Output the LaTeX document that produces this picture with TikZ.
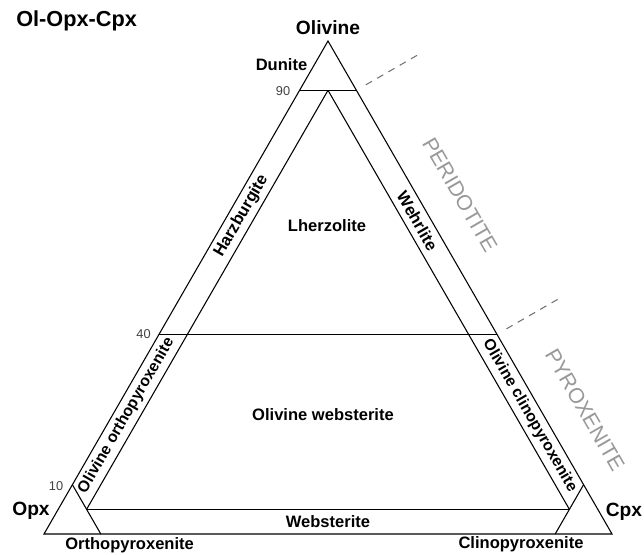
\documentclass[tikz,border=0pt]{standalone}
\usepackage{fontspec}
\setmainfont{Liberation Sans}
\usetikzlibrary{calc}
\begin{document}
\begin{tikzpicture}[x=0.75pt,y=-0.75pt,
  edge/.style={line width=0.8pt, black},
  lab/.style={font=\bfseries\fontsize{12.4}{14}\selectfont, inner sep=0pt},
  longlab/.style={font=\bfseries\fontsize{11.8}{14}\selectfont, inner sep=0pt},
  big/.style={font=\bfseries\fontsize{14.4}{16}\selectfont, inner sep=0pt},
  ttl/.style={font=\bfseries\fontsize{16.3}{18}\selectfont, inner sep=0pt},
  num/.style={font=\fontsize{9.6}{11}\selectfont, text=black!75, inner sep=0pt},
  zone/.style={font=\fontsize{16}{18}\selectfont, text=black!40, inner sep=0pt, rotate=-60},
  sep/.style={dash pattern=on 5.25pt off 4.5pt, black!55, line width=0.8pt}]
\useasboundingbox (0,0) rectangle (644,555);
% corners
\coordinate (A) at (328,41);
\coordinate (O) at (44,534);
\coordinate (C) at (612,534);
% key points
\coordinate (L90) at ($0.9*(A)+0.1*(O)$);
\coordinate (R90) at ($0.9*(A)+0.1*(C)$);
\coordinate (L40) at ($0.405*(A)+0.595*(O)$);
\coordinate (R40) at ($0.405*(A)+0.595*(C)$);
\coordinate (P90) at ($0.9*(A)+0.05*(O)+0.05*(C)$);
\coordinate (PO) at ($0.05*(A)+0.9*(O)+0.05*(C)$);
\coordinate (PC) at ($0.05*(A)+0.05*(O)+0.9*(C)$);
\coordinate (L10) at ($0.1*(A)+0.9*(O)$);
\coordinate (B10) at ($0.9*(O)+0.1*(C)$);
\coordinate (R10) at ($0.1*(A)+0.9*(C)$);
\coordinate (B10c) at ($0.1*(O)+0.9*(C)$);
% label positions
\coordinate (Hz) at ($0.645*(A)+0.33*(O)+0.025*(C)$);
\coordinate (Oo) at ($0.24*(A)+0.735*(O)+0.025*(C)$);
\coordinate (Wh) at ($0.635*(A)+0.025*(O)+0.34*(C)$);
\coordinate (Oc) at ($0.24*(A)+0.025*(O)+0.735*(C)$);
\coordinate (Wb) at ($0.025*(A)+0.4875*(O)+0.4875*(C)$);
% dashed separators
\coordinate (D1s) at ($(R90)+(9.5,-5.5)$);
\coordinate (D1e) at ($(R90)+(62.5,-36)$);
\coordinate (D2s) at ($(R40)+(9.5,-5.5)$);
\coordinate (D2e) at ($(R40)+(62.5,-36)$);

% lines
\draw[edge] (A) -- (O) -- (C) -- cycle;
\draw[edge] (L90) -- (R90);
\draw[edge] (L40) -- (R40);
\draw[edge] (P90) -- (PO);
\draw[edge] (P90) -- (PC);
\draw[edge] (PO) -- (PC);
\draw[edge] (L10) -- (B10);
\draw[edge] (R10) -- (B10c);
\draw[sep] (D1s) -- (D1e);
\draw[sep] (D2s) -- (D2e);

% texts
\node[ttl, anchor=base west] (title) at (16,27) {Ol-Opx-Cpx};
\node[big, anchor=base] (ol) at (328,35) {Olivine};
\node[big, anchor=base] (opx) at (31,516) {Opx};
\node[big, anchor=base] (cpx) at (624,516.5) {Cpx};
\node[lab, anchor=base] (dun) at (281.5,70.5) {Dunite};
\node[num, anchor=east] (n90) at (290.5,91) {90};
\node[num, anchor=east] (n40) at (151,334.5) {40};
\node[num, anchor=east] (n10) at (63.5,486) {10};
\node[lab, anchor=base] (lhz) at (327,232) {Lherzolite};
\node[lab, anchor=base] (olw) at (323,421) {Olivine websterite};
\node[lab] (web) at (Wb) {Websterite};
\node[lab, anchor=base west] (opy) at (65,550) {Orthopyroxenite};
\node[lab, anchor=base] (cpy) at (521,549) {Clinopyroxenite};
\node[lab, rotate=60] (hzb) at (Hz) {Harzburgite};
\node[longlab, rotate=60] (oop) at (Oo) {Olivine orthopyroxenite};
\node[lab, rotate=-60] (whr) at (Wh) {Wehrlite};
\node[longlab, rotate=-60] (ocp) at (Oc) {Olivine clinopyroxenite};
\node[zone] (per) at (460,195) {PERIDOTITE};
\node[zone] (pyr) at (585,410) {PYROXENITE};
\end{tikzpicture}
\end{document}
